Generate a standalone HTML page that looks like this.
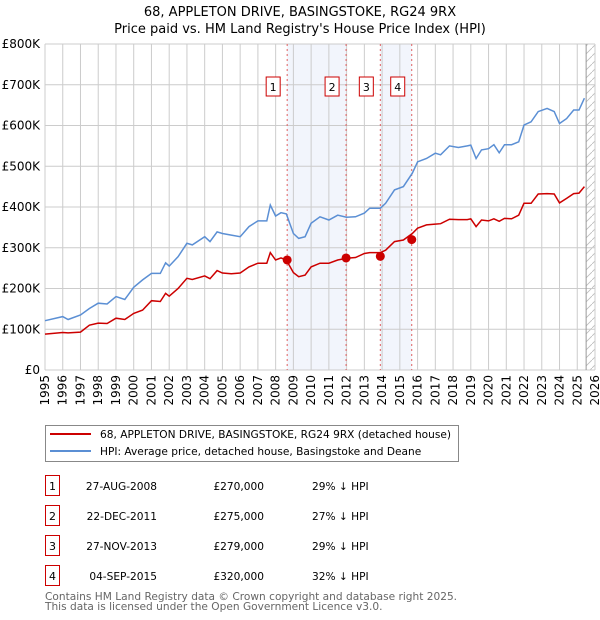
<!DOCTYPE html>
<html><head><meta charset="utf-8"><style>
body{margin:0;background:#fff;font-family:"DejaVu Sans","Liberation Sans",sans-serif;}
#wrap{position:relative;width:600px;height:620px;}
svg{position:absolute;left:0;top:0}
</style></head><body><div id="wrap">
<svg id="chart" width="600" height="620" font-family="DejaVu Sans, Liberation Sans, sans-serif"></svg>
</div>
<script>
const years=[1995,1996,1996.3,1997,1997.5,1998,1998.5,1999,1999.5,2000,2000.5,2001,2001.5,2001.8,2002,2002.5,2003,2003.3,2004,2004.3,2004.7,2005,2005.5,2006,2006.5,2007,2007.5,2007.7,2008,2008.3,2008.6,2009,2009.3,2009.66,2010,2010.5,2011,2011.5,2012,2012.5,2013,2013.3,2013.9,2014.2,2014.7,2015.2,2015.7,2016,2016.5,2017,2017.3,2017.8,2018.3,2018.8,2019,2019.3,2019.6,2020,2020.3,2020.6,2020.9,2021.3,2021.7,2022,2022.4,2022.8,2023.3,2023.7,2024,2024.4,2024.8,2025.1,2025.4];
const hpi=[121,131,124,135,151,164,162,180,173,203,221,237,237,263,255,278,311,307,327,315,339,335,331,327,352,366,366,405,378,386,383,335,323,327,360,376,368,380,375,376,385,397,397,409,442,450,483,511,519,532,528,550,546,550,552,519,540,543,553,533,553,553,560,601,609,634,642,634,605,617,638,638,667];
const paid=[88,92,91,93,110,115,114,127,124,139,147,170,168,188,181,200,225,222,231,224,244,238,236,238,253,262,262,288,270,275,270,239,229,233,253,262,262,270,274,276,286,288,288,294,315,319,335,348,356,358,359,370,369,369,371,352,368,366,371,365,372,371,380,409,409,432,433,432,410,421,433,434,450];
const saleLabels=["1","2","3","4"];
const saleYears=[2008.65,2011.97,2013.9,2015.67];
const salePrices=[270,275,279,320];
const yTicks=[0,100,200,300,400,500,600,700,800];
const yTickLabels=["£0","£100K","£200K","£300K","£400K","£500K","£600K","£700K","£800K"];
const xTicks=[];for(let y=1995;y<=2026;y++)xTicks.push(y);
const saleDates=["27-AUG-2008","22-DEC-2011","27-NOV-2013","04-SEP-2015"];
const saleAmounts=["£270,000","£275,000","£279,000","£320,000"];
const saleDiffs=["29% ↓ HPI","27% ↓ HPI","29% ↓ HPI","32% ↓ HPI"];

const L=45,R=595,T=44,B=370;
const X=y=>L+(y-1995)*(R-L)/31;
const Y=v=>B-v*(B-T)/800;
const svg=document.getElementById('chart');
const NS='http://www.w3.org/2000/svg';
function mk(tag,attrs,parent){const e=document.createElementNS(NS,tag);for(const k in attrs)e.setAttribute(k,attrs[k]);(parent||svg).appendChild(e);return e;}
function txt(s,attrs){const e=mk('text',attrs);e.textContent=s;return e;}

let t=txt("68, APPLETON DRIVE, BASINGSTOKE, RG24 9RX",{x:300,y:16,'text-anchor':'middle','font-size':13,fill:'#000'});


t=txt("Price paid vs. HM Land Registry's House Price Index (HPI)",{x:300,y:33,'text-anchor':'middle','font-size':13,fill:'#000'});



[[0,1],[2,3]].forEach(p=>{const r=mk('rect',{x:X(saleYears[p[0]]),y:T,width:X(saleYears[p[1]])-X(saleYears[p[0]]),height:B-T,fill:'#f2f5fc'});

});
const defs=mk('defs',{});
const pat=mk('pattern',{id:'hatch',width:8,height:8,patternUnits:'userSpaceOnUse'},defs);
mk('path',{d:'M0,8 L8,0',stroke:'#bbb','stroke-width':0.8},pat);
let h=mk('rect',{x:X(2025.5),y:T,width:R-X(2025.5),height:B-T,fill:'url(#hatch)'});



xTicks.forEach(y=>{const g=mk('line',{x1:X(y),x2:X(y),y1:T,y2:B,stroke:'#ccc','stroke-width':1});


const l=txt(String(y),{transform:`translate(${X(y)+4},${B+5}) rotate(-90)`,'text-anchor':'end','font-size':12,fill:'#000'});

});
yTicks.forEach((v,i)=>{const g=mk('line',{x1:L,x2:R,y1:Y(v),y2:Y(v),stroke:'#ccc','stroke-width':1});


const l=txt(yTickLabels[i],{x:L-5,y:Y(v)+4,'text-anchor':'end','font-size':12,fill:'#000'});

});
let vl=mk('line',{x1:X(2025.5),x2:X(2025.5),y1:T,y2:B,stroke:'#999','stroke-width':1});



saleYears.forEach((y,i)=>{const l=mk('line',{x1:X(y),x2:X(y),y1:T,y2:B,stroke:'#e06060','stroke-width':1,'stroke-dasharray':'2,3'});


const b=mk('rect',{x:X(y)-21,y:77,width:14,height:19,fill:'#fff',stroke:'#c00','stroke-width':1});


const s=txt(saleLabels[i],{x:X(y)-14,y:91,'text-anchor':'middle','font-size':11,fill:'#000'});

});

const pts=a=>a.map((v,i)=>X(years[i]).toFixed(1)+','+Y(v).toFixed(1)).join(' ');
let ph=mk('polyline',{points:pts(hpi),fill:'none',stroke:'#5b8fd4','stroke-width':1.5});


let pp=mk('polyline',{points:pts(paid),fill:'none',stroke:'#cc0000','stroke-width':1.5});


saleYears.forEach((y,i)=>{const c=mk('circle',{cx:X(y),cy:Y(salePrices[i]),r:4.5,fill:'#cc0000'});

});

let lg=mk('rect',{x:45.5,y:425.5,width:413,height:36,fill:'#fff',stroke:'#888'});


let ll=mk('line',{x1:50,x2:91,y1:434,y2:434,stroke:'#cc0000','stroke-width':2});


ll=mk('line',{x1:50,x2:91,y1:451,y2:451,stroke:'#5b8fd4','stroke-width':2});


t=txt("68, APPLETON DRIVE, BASINGSTOKE, RG24 9RX (detached house)",{x:100,y:438,'font-size':10.6,fill:'#000'});


t=txt("HPI: Average price, detached house, Basingstoke and Deane",{x:100,y:455,'font-size':10.6,fill:'#000'});



saleLabels.forEach((s,i)=>{const yy=475+i*30;
const b=mk('rect',{x:45.5,y:yy+0.5,width:14,height:20,fill:'#fff',stroke:'#c00'});


let e=txt(s,{x:52.5,y:yy+15,'text-anchor':'middle','font-size':11});


e=txt(saleDates[i],{x:157,y:yy+15,'text-anchor':'end','font-size':10.6});


e=txt(saleAmounts[i],{x:264,y:yy+15,'text-anchor':'end','font-size':10.6});


e=txt(saleDiffs[i],{x:312,y:yy+15,'font-size':10.6});

});
t=txt("Contains HM Land Registry data © Crown copyright and database right 2025.",{x:45,y:600,'font-size':10.6,fill:'#666'});


t=txt("This data is licensed under the Open Government Licence v3.0.",{x:45,y:610,'font-size':10.6,fill:'#666'});


</script></body></html>
